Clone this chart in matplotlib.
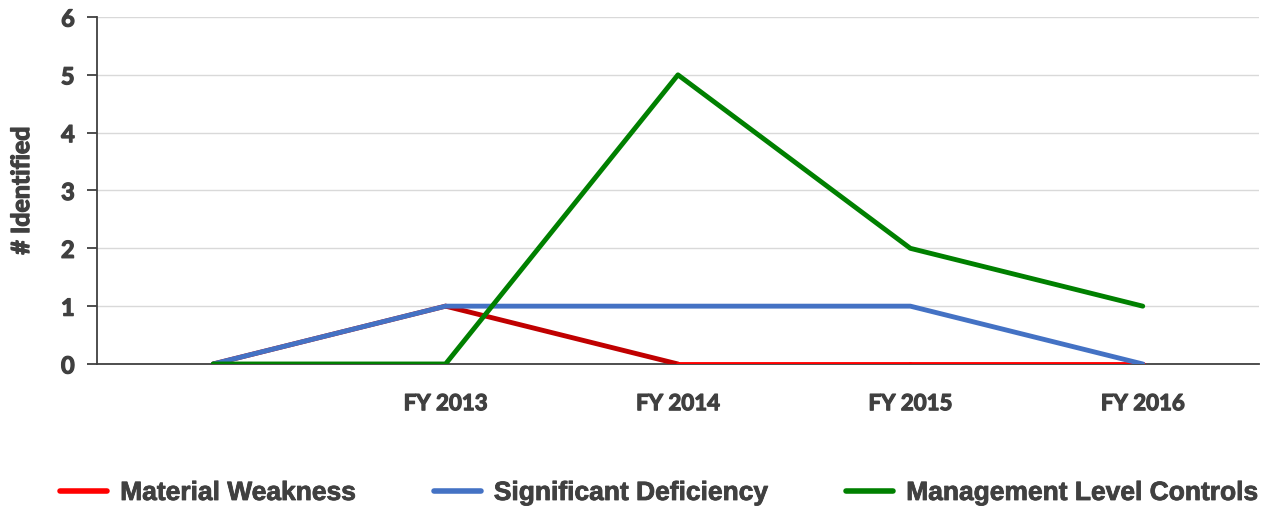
import matplotlib
matplotlib.use("Agg")
import matplotlib.pyplot as plt
import matplotlib.patheffects as pe
from matplotlib.lines import Line2D

categories = ["", "FY 2013", "FY 2014", "FY 2015", "FY 2016"]
material_weakness = [0, 1, 0, 0, 0]
significant_deficiency = [0, 1, 1, 1, 0]
management_level_controls = [0, 0, 5, 2, 1]
# per-segment colours of the Material Weakness line as drawn in the reference
mw_segment_colors = ["#C00000", "#C00000", "#FF0000", "#FF0000"]

series_names = ["Material Weakness", "Significant Deficiency", "Management Level Controls"]
legend_colors = ["#FF0000", "#4472C4", "#008000"]

TEXT = "#404040"
heavy = [pe.withStroke(linewidth=0.9, foreground=TEXT)]

fig = plt.figure(figsize=(12.64, 5.08), dpi=100)
ax = fig.add_axes([0.0767, 0.2835, 0.9193, 0.683])

x = list(range(len(categories)))
lw = 3.5
for i in range(len(x) - 1):
    ax.plot(x[i:i + 2], material_weakness[i:i + 2], color=mw_segment_colors[i],
            lw=lw, solid_capstyle="round", solid_joinstyle="round", zorder=3)
ax.plot(x, significant_deficiency, color="#4472C4", lw=lw,
        solid_capstyle="round", solid_joinstyle="round", zorder=4)
ax.plot(x, management_level_controls, color="#008000", lw=lw,
        solid_capstyle="round", solid_joinstyle="round", zorder=5)

ax.set_xlim(-0.5, len(categories) - 0.5)
ax.set_ylim(0, 6)
ax.set_yticks(range(0, 7))
ax.set_xticks(x)
ax.set_xticklabels(categories)
ax.grid(axis="y", color="#D9D9D9", lw=1)
ax.set_axisbelow(True)
for s in ["top", "right"]:
    ax.spines[s].set_visible(False)
ax.spines["left"].set_color(TEXT)
ax.spines["bottom"].set_color(TEXT)
ax.spines["left"].set_linewidth(1.3)
ax.spines["bottom"].set_linewidth(1.3)
ax.tick_params(axis="y", length=7, width=1.3, color=TEXT, pad=9)
ax.tick_params(axis="x", length=0, pad=21)
for lab in ax.get_xticklabels() + ax.get_yticklabels():
    lab.set_fontfamily("Lato")
    lab.set_fontweight("bold")
    lab.set_color(TEXT)
    lab.set_path_effects(heavy)
for lab in ax.get_xticklabels():
    lab.set_fontsize(16)
for lab in ax.get_yticklabels():
    lab.set_fontsize(17)
ax.set_ylabel("# Identified", fontfamily="Lato", fontweight="bold", fontsize=18,
              color=TEXT, labelpad=20, path_effects=heavy)

handles = [Line2D([0], [0], color=c, lw=4, solid_capstyle="round") for c in legend_colors]
leg = fig.legend(handles, series_names, ncol=3, loc="center",
                 bbox_to_anchor=(0.5 + 27 / 1264, 1 - 493 / 508), frameon=False,
                 prop={"family": "Liberation Sans", "weight": "bold", "size": 19},
                 handlelength=1.78, handletextpad=0.5, columnspacing=2.95,
                 borderaxespad=0)
for t in leg.get_texts():
    t.set_color(TEXT)
    t.set_path_effects([pe.withStroke(linewidth=0.6, foreground=TEXT)])

fig.savefig("out.png", dpi=100)
